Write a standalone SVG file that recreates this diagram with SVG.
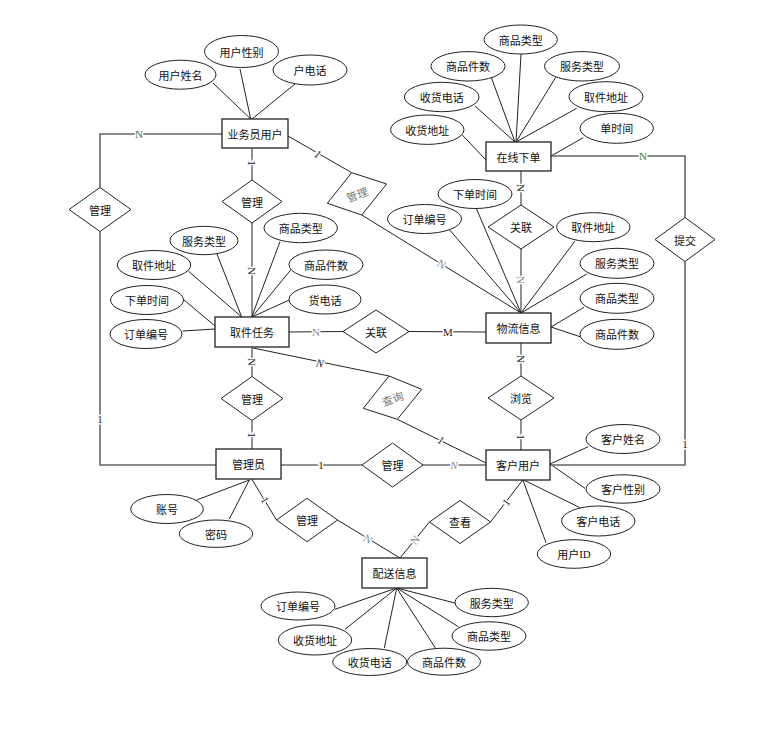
<svg xmlns="http://www.w3.org/2000/svg" width="767" height="735" viewBox="0 0 767 735">
<style>
.ent rect{fill:#fff;stroke:#222;stroke-width:1.3}
.attr ellipse{fill:#fff;stroke:#222;stroke-width:1}
.rel polygon{fill:#fff;stroke:#222;stroke-width:1}
text{font-family:"Noto Sans CJK SC","Liberation Sans",sans-serif;font-size:11px;fill:#111;text-anchor:middle;dominant-baseline:central}
.rt{fill:#777}
#connectors line,#connectors polyline{fill:none;stroke:#222;stroke-width:1}
#connectors .route{stroke:#666;stroke-width:1.6}
#attrlines line{stroke:#222;stroke-width:1}
.lbl{font-family:"Liberation Serif",serif;font-size:11px;stroke:#fff;stroke-width:3;paint-order:stroke;fill:#222}
.g{fill:#2e7d4f}
.gr{fill:#888}
.it{font-style:italic}
</style>
<rect width="767" height="735" fill="#fff"/>
<g id="attrlines">
<line x1="213" y1="83" x2="250.7" y2="119"/>
<line x1="240" y1="69" x2="250.7" y2="119"/>
<line x1="295" y1="84" x2="252" y2="119"/>
<line x1="462.3" y1="135" x2="486" y2="160"/>
<line x1="475" y1="106" x2="515" y2="142"/>
<line x1="491" y1="76.7" x2="515" y2="142"/>
<line x1="521" y1="54" x2="516" y2="142"/>
<line x1="555.7" y1="77.3" x2="516" y2="142"/>
<line x1="576.7" y1="108.3" x2="516" y2="142"/>
<line x1="583.3" y1="137.7" x2="551" y2="156"/>
<line x1="448.3" y1="228.3" x2="521" y2="313"/>
<line x1="476" y1="207.7" x2="521" y2="313"/>
<line x1="575" y1="241" x2="521" y2="313"/>
<line x1="586.7" y1="274" x2="521" y2="313"/>
<line x1="584" y1="307.3" x2="551" y2="327"/>
<line x1="580" y1="336.7" x2="551" y2="327"/>
<line x1="188.3" y1="271" x2="241.7" y2="317"/>
<line x1="216.7" y1="253.3" x2="241.7" y2="317"/>
<line x1="280" y1="241.7" x2="251.7" y2="317"/>
<line x1="290.7" y1="270" x2="252" y2="317"/>
<line x1="290.7" y1="299.3" x2="252" y2="317"/>
<line x1="184" y1="300" x2="215" y2="326"/>
<line x1="182.7" y1="331" x2="215" y2="329"/>
<line x1="196.7" y1="500" x2="249.3" y2="480"/>
<line x1="229.3" y1="519" x2="249.3" y2="480"/>
<line x1="550" y1="464" x2="588.3" y2="446.7"/>
<line x1="550" y1="464" x2="585" y2="488.3"/>
<line x1="522.7" y1="479.5" x2="580" y2="507.7"/>
<line x1="522.7" y1="479.5" x2="546" y2="542.7"/>
<line x1="396.7" y1="588" x2="335" y2="609.3"/>
<line x1="396.7" y1="588" x2="345" y2="629.3"/>
<line x1="396.7" y1="588" x2="384.3" y2="648"/>
<line x1="396.7" y1="588" x2="436" y2="649"/>
<line x1="396.7" y1="588" x2="458.3" y2="626.7"/>
<line x1="396.7" y1="588" x2="456" y2="603.3"/>
</g>
<g id="connectors">
<polyline class="route" points="222,134 100,134 100,187.5"/>
<polyline class="route" points="100,231.5 100,465 216,465"/>
<line x1="252" y1="148" x2="252" y2="180"/>
<line x1="252" y1="223" x2="252" y2="317"/>
<line x1="288" y1="136" x2="351.7" y2="172.7"/>
<line x1="361.7" y1="215" x2="521" y2="313"/>
<line x1="521" y1="171" x2="521" y2="205"/>
<line x1="521" y1="249" x2="521" y2="313"/>
<polyline class="route" points="551,156 685,156 685,217.5"/>
<polyline class="route" points="685,261.5 685,465 550,465"/>
<line x1="289" y1="332" x2="343" y2="331.5"/>
<line x1="409" y1="331.5" x2="486" y2="332"/>
<line x1="252" y1="347" x2="252" y2="376.5"/>
<line x1="252" y1="420.5" x2="252" y2="449"/>
<line x1="253" y1="348" x2="389" y2="376"/>
<line x1="397.3" y1="419.3" x2="486" y2="463"/>
<line x1="521" y1="343" x2="521" y2="376"/>
<line x1="521" y1="420" x2="521" y2="450"/>
<line x1="281" y1="465" x2="362" y2="465"/>
<line x1="423" y1="465" x2="486" y2="465"/>
<line x1="251.7" y1="479" x2="276.5" y2="520"/>
<line x1="337.5" y1="520" x2="400" y2="558"/>
<line x1="522.7" y1="480" x2="490.5" y2="522"/>
<line x1="429.5" y1="522" x2="400" y2="558"/>
</g>
<g id="labels">
<text class="lbl g" x="139" y="134">N</text>
<text class="lbl" x="100" y="419">1</text>
<text class="lbl" x="252" y="163" transform="rotate(90 252 163)">1</text>
<text class="lbl" x="252" y="271" transform="rotate(90 252 271)">N</text>
<text class="lbl it" x="318" y="154" transform="rotate(30 318 154)">1</text>
<text class="lbl gr" x="441.7" y="264" transform="rotate(31.6 441.7 264)">N</text>
<text class="lbl" x="521" y="188" transform="rotate(90 521 188)">N</text>
<text class="lbl gr" x="521" y="280" transform="rotate(90 521 280)">N</text>
<text class="lbl g" x="643" y="156">N</text>
<text class="lbl" x="685" y="444">1</text>
<text class="lbl gr" x="316" y="332">N</text>
<text class="lbl" x="448" y="332">M</text>
<text class="lbl" x="252" y="362" transform="rotate(90 252 362)">N</text>
<text class="lbl" x="252" y="435" transform="rotate(90 252 435)">1</text>
<text class="lbl it" x="320" y="363" transform="rotate(11.6 320 363)">N</text>
<text class="lbl it" x="441" y="440" transform="rotate(26.6 441 440)">1</text>
<text class="lbl" x="521" y="359" transform="rotate(90 521 359)">N</text>
<text class="lbl" x="521" y="437" transform="rotate(90 521 437)">1</text>
<text class="lbl" x="321" y="465">1</text>
<text class="lbl gr it" x="454" y="465">N</text>
<text class="lbl" x="265" y="500" transform="rotate(58 265 500)">1</text>
<text class="lbl gr" x="368" y="539" transform="rotate(31.5 368 539)">N</text>
<text class="lbl" x="506" y="502" transform="rotate(-52 506 502)">1</text>
<text class="lbl gr" x="415" y="540" transform="rotate(-51 415 540)">N</text>
</g>
<g id="e-yewuyuan" class="ent"><rect x="222" y="119" width="66" height="29"/><text x="255" y="133.5">业务员用户</text></g>
<g id="e-zaixian" class="ent"><rect x="486" y="142" width="65" height="29"/><text x="518.5" y="156.5">在线下单</text></g>
<g id="e-qujian" class="ent"><rect x="215" y="317" width="74" height="30"/><text x="252" y="332">取件任务</text></g>
<g id="e-wuliu" class="ent"><rect x="486" y="313" width="65" height="30"/><text x="518.5" y="328">物流信息</text></g>
<g id="e-guanliyuan" class="ent"><rect x="216" y="449" width="65" height="30"/><text x="248.5" y="464">管理员</text></g>
<g id="e-kehu" class="ent"><rect x="486" y="450" width="64" height="30"/><text x="518" y="465">客户用户</text></g>
<g id="e-peisong" class="ent"><rect x="362" y="558" width="65" height="30"/><text x="394.5" y="573">配送信息</text></g>
<g id="r-guanli-left" class="rel"><polygon points="100,187.5 131,209.5 100,231.5 69,209.5"/><text x="100" y="209.5">管理</text></g>
<g id="r-guanli-top" class="rel"><polygon points="252,180 282,201.5 252,223 222,201.5"/><text x="252" y="201.5">管理</text></g>
<g id="r-guanli-rot" class="rel"><polygon points="351.7,172.7 386.7,184 361.7,215 327.3,203.3"/><text class="rt" x="357" y="194" transform="rotate(-20 357 194)">管理</text></g>
<g id="r-guanlian-top" class="rel"><polygon points="521,205 554,227 521,249 488,227"/><text x="521" y="227">关联</text></g>
<g id="r-tijiao" class="rel"><polygon points="685,217.5 715,239.5 685,261.5 655,239.5"/><text x="685" y="239.5">提交</text></g>
<g id="r-guanlian-mid" class="rel"><polygon points="376,310 409,331.5 376,353 343,331.5"/><text x="376" y="331.5">关联</text></g>
<g id="r-guanli-mid" class="rel"><polygon points="252,376.5 283,398.5 252,420.5 221,398.5"/><text x="252" y="398.5">管理</text></g>
<g id="r-chaxun" class="rel"><polygon points="389,376 421.7,389.3 397.3,419.3 363.3,408.3"/><text class="rt" x="392.5" y="398" transform="rotate(-20 392.5 398)">查询</text></g>
<g id="r-liulan" class="rel"><polygon points="521,376 554,398 521,420 488,398"/><text x="521" y="398">浏览</text></g>
<g id="r-guanli-bot" class="rel"><polygon points="392.5,443 423,465 392.5,487 362,465"/><text x="392.5" y="465">管理</text></g>
<g id="r-guanli-low" class="rel"><polygon points="307,498.3 337.5,520 307,541.7 276.5,520"/><text x="307" y="520">管理</text></g>
<g id="r-chakan" class="rel"><polygon points="460,500.5 490.5,522 460,543.5 429.5,522"/><text x="460" y="522">查看</text></g>
<g id="a1" class="attr"><ellipse cx="180.5" cy="74.7" rx="35.5" ry="14.5"/><text x="180.5" y="74.7">用户姓名</text></g>
<g id="a2" class="attr"><ellipse cx="241.5" cy="51.5" rx="37" ry="16"/><text x="241.5" y="51.5">用户性别</text></g>
<g id="a3" class="attr"><ellipse cx="310" cy="70" rx="37" ry="15"/><text x="310" y="70">户电话</text></g>
<g id="a4" class="attr"><ellipse cx="520.7" cy="39.5" rx="36.7" ry="14.5"/><text x="520.7" y="39.5">商品类型</text></g>
<g id="a5" class="attr"><ellipse cx="468" cy="66.3" rx="37" ry="14.7"/><text x="468" y="66.3">商品件数</text></g>
<g id="a6" class="attr"><ellipse cx="582" cy="66.3" rx="37.5" ry="14.7"/><text x="582" y="66.3">服务类型</text></g>
<g id="a7" class="attr"><ellipse cx="441.7" cy="97" rx="37.3" ry="14.7"/><text x="441.7" y="97">收货电话</text></g>
<g id="a8" class="attr"><ellipse cx="606" cy="96.7" rx="37" ry="15"/><text x="606" y="96.7">取件地址</text></g>
<g id="a9" class="attr"><ellipse cx="427.3" cy="129.7" rx="36.7" ry="14.7"/><text x="427.3" y="129.7">收货地址</text></g>
<g id="a10" class="attr"><ellipse cx="616.7" cy="128.3" rx="36.7" ry="15"/><text x="616.7" y="128.3">单时间</text></g>
<g id="a11" class="attr"><ellipse cx="475" cy="194" rx="37" ry="14.5"/><text x="475" y="194">下单时间</text></g>
<g id="a12" class="attr"><ellipse cx="424.5" cy="219" rx="37" ry="14.5"/><text x="424.5" y="219">订单编号</text></g>
<g id="a13" class="attr"><ellipse cx="593.3" cy="227.2" rx="36.7" ry="14.5"/><text x="593.3" y="227.2">取件地址</text></g>
<g id="a14" class="attr"><ellipse cx="617" cy="263.3" rx="37" ry="15"/><text x="617" y="263.3">服务类型</text></g>
<g id="a15" class="attr"><ellipse cx="617" cy="298.3" rx="37" ry="15"/><text x="617" y="298.3">商品类型</text></g>
<g id="a16" class="attr"><ellipse cx="617" cy="334.3" rx="37" ry="15"/><text x="617" y="334.3">商品件数</text></g>
<g id="a17" class="attr"><ellipse cx="204" cy="240.5" rx="34" ry="14.2"/><text x="204" y="240.5">服务类型</text></g>
<g id="a18" class="attr"><ellipse cx="300.7" cy="228" rx="36.7" ry="14.7"/><text x="300.7" y="228">商品类型</text></g>
<g id="a19" class="attr"><ellipse cx="154" cy="265" rx="36.7" ry="14.5"/><text x="154" y="265">取件地址</text></g>
<g id="a20" class="attr"><ellipse cx="326" cy="264.7" rx="37" ry="14.7"/><text x="326" y="264.7">商品件数</text></g>
<g id="a21" class="attr"><ellipse cx="147" cy="300" rx="36.5" ry="14.5"/><text x="147" y="300">下单时间</text></g>
<g id="a22" class="attr"><ellipse cx="325" cy="299.5" rx="36" ry="14.5"/><text x="325" y="299.5">货电话</text></g>
<g id="a23" class="attr"><ellipse cx="146" cy="334" rx="36" ry="14.5"/><text x="146" y="334">订单编号</text></g>
<g id="a24" class="attr"><ellipse cx="623" cy="439" rx="37" ry="14.5"/><text x="623" y="439">客户姓名</text></g>
<g id="a25" class="attr"><ellipse cx="623" cy="489" rx="37" ry="14.2"/><text x="623" y="489">客户性别</text></g>
<g id="a26" class="attr"><ellipse cx="598.3" cy="521" rx="36.7" ry="15"/><text x="598.3" y="521">客户电话</text></g>
<g id="a27" class="attr"><ellipse cx="574" cy="554" rx="36.7" ry="14.3"/><text x="574" y="554">用户<tspan font-family="Liberation Serif">ID</tspan></text></g>
<g id="a28" class="attr"><ellipse cx="167" cy="509" rx="36.3" ry="14.5"/><text x="167" y="509">账号</text></g>
<g id="a29" class="attr"><ellipse cx="216" cy="533.7" rx="36.7" ry="13.7"/><text x="216" y="533.7">密码</text></g>
<g id="a30" class="attr"><ellipse cx="298" cy="606" rx="37" ry="14"/><text x="298" y="606">订单编号</text></g>
<g id="a31" class="attr"><ellipse cx="315" cy="640" rx="36.7" ry="15"/><text x="315" y="640">收货地址</text></g>
<g id="a32" class="attr"><ellipse cx="369.7" cy="662" rx="37" ry="13.5"/><text x="369.7" y="662">收货电话</text></g>
<g id="a33" class="attr"><ellipse cx="444" cy="661.7" rx="36.5" ry="13.5"/><text x="444" y="661.7">商品件数</text></g>
<g id="a34" class="attr"><ellipse cx="489" cy="636" rx="37" ry="14.2"/><text x="489" y="636">商品类型</text></g>
<g id="a35" class="attr"><ellipse cx="491.7" cy="602.5" rx="36.7" ry="14.2"/><text x="491.7" y="602.5">服务类型</text></g>
</svg>
